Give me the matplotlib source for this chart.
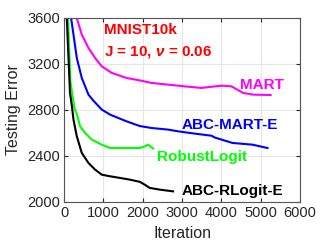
import matplotlib
matplotlib.use('Agg')
import matplotlib.pyplot as plt

plt.rcParams['font.family'] = ['Liberation Sans', 'DejaVu Sans']
plt.rcParams['mathtext.fontset'] = 'custom'
plt.rcParams['mathtext.it'] = 'Liberation Sans:italic:bold'

# values
mart_it = [323, 450, 620, 788, 958, 1212, 1586, 1924, 2221, 2644, 3068, 3492,
           3831, 4042, 4255, 4550, 4804, 5250]
mart_err = [3600, 3455, 3339, 3252, 3179, 3122, 3078, 3057, 3035, 3020, 3005, 2991,
            3005, 3011, 3005, 2948, 2933, 2930]

abcmart_it = [178, 239, 323, 450, 620, 747, 958, 1170, 1586, 1924, 2221, 2644,
              2898, 3322, 3746, 3831, 4280, 4789, 5170]
abcmart_err = [3600, 3455, 3252, 3078, 2933, 2880, 2803, 2759, 2701, 2660, 2643, 2629,
               2614, 2594, 2576, 2560, 2513, 2498, 2469]

robust_it = [100, 160, 260, 323, 407, 534, 704, 958, 1170, 1586, 1924, 2051, 2136, 2262]
robust_err = [3600, 3050, 2820, 2765, 2657, 2600, 2542, 2498, 2469, 2469, 2469, 2483, 2498, 2465]

abcrl_it = [69, 150, 200, 239, 323, 450, 620, 788, 958, 1170, 1416, 1670, 1924,
            2051, 2178, 2433, 2771]
abcrl_err = [3600, 2950, 2830, 2716, 2571, 2426, 2339, 2281, 2237, 2223, 2209, 2194, 2175,
             2150, 2122, 2107, 2092]

xticks = [0, 1000, 2000, 3000, 4000, 5000, 6000]
yticks = [2000, 2400, 2800, 3200, 3600]

fig = plt.figure(figsize=(3.32, 2.49), dpi=100)
ax = fig.add_axes([0.193, 0.189, 0.711, 0.739])

ax.plot(mart_it, mart_err, color='#ff00ff', lw=1.5)
ax.plot(abcmart_it, abcmart_err, color='#0000ff', lw=1.5)
ax.plot(robust_it, robust_err, color='#00ff00', lw=1.5)
ax.plot(abcrl_it, abcrl_err, color='black', lw=1.5)

ax.set_xlim(0, 6000)
ax.set_ylim(2000, 3600)
ax.set_xticks(xticks)
ax.set_yticks(yticks)
ax.grid(True, color='#e6e6e6', lw=0.8)
ax.set_axisbelow(True)
ax.tick_params(direction='in', top=True, right=True, length=3,
               labelsize=10.5, colors='#262626', pad=3)
for s in ax.spines.values():
    s.set_color('#555555')
    s.set_linewidth(0.8)

ax.set_xlabel('Iteration', fontsize=11.5, color='#262626')
ax.set_ylabel('Testing Error', fontsize=11.5, color='#262626')

kw = dict(fontsize=11, fontweight='bold', ha='left', va='center')
ax.text(1009, 3498, 'MNIST10k', color='#ff0000', **kw)
ax.text(1009, 3307, r'J = 10, $\nu$ = 0.06', color='#ff0000', **kw)
ax.text(4467, 3020, 'MART', color='#ff00ff', **kw)
ax.text(2997, 2672, 'ABC-MART-E', color='#0000ff', **kw)
ax.text(2356, 2394, 'RobustLogit', color='#00ff00', **kw)
ax.text(2997, 2098, 'ABC-RLogit-E', color='black', **kw)

fig.savefig('out.png', dpi=100)
